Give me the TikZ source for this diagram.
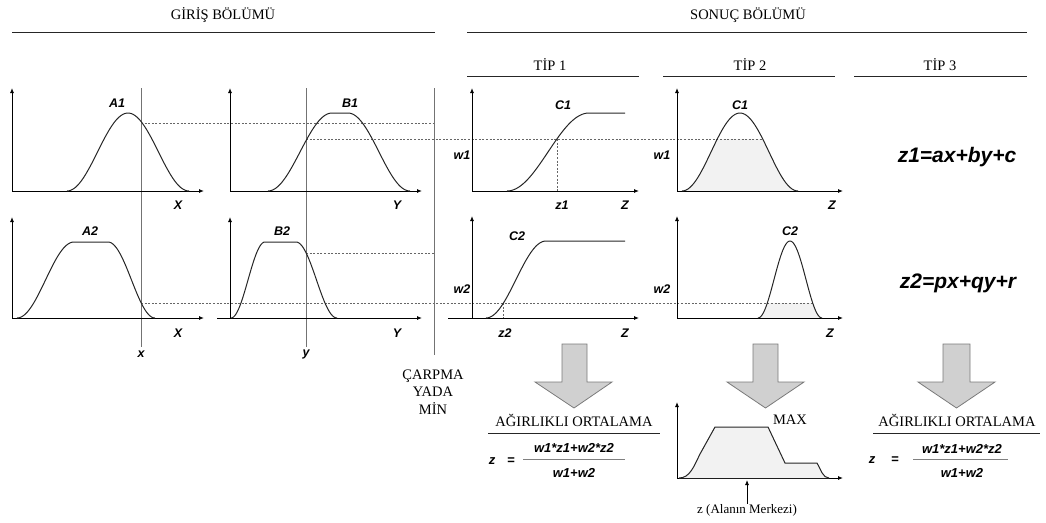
\documentclass[tikz,border=0pt]{standalone}
\usepackage{fontspec}
\setmainfont{Liberation Serif}
\newfontfamily\lsans{Liberation Sans}
\usetikzlibrary{arrows.meta}
\definecolor{arrowfill}{HTML}{D0D0D0}
\definecolor{arrowline}{HTML}{7A7A7A}
\definecolor{shadefill}{HTML}{F2F2F2}
\begin{document}
\begin{tikzpicture}[x=1pt,y=-1pt,
  ser/.style={font=\fontsize{14.5}{17}\selectfont, inner sep=0pt},
  sersm/.style={font=\fontsize{13}{15}\selectfont, inner sep=0pt},
  lab/.style={font=\lsans\fontsize{12.5}{14}\selectfont\bfseries\itshape, inner sep=0pt},
  frac/.style={font=\lsans\fontsize{13}{15}\selectfont\bfseries\itshape, inner sep=0pt},
  big/.style={font=\lsans\fontsize{21}{24}\selectfont\bfseries\itshape, inner sep=0pt},
  axis/.style={line width=0.9pt, -{Latex[length=5pt,width=4pt]}},
  curve/.style={line width=1pt, black!85},
  guide/.style={line width=1pt, black!55},
  dline/.style={line width=1pt, black!60, dash pattern=on 2pt off 1.6pt},
  rule/.style={line width=1pt, black!85},
  block/.style={fill=arrowfill, draw=arrowline, line width=0.8pt}]
\useasboundingbox (0,0) rectangle (1046,522);

% ---------- headings ----------
\node[ser] (giris) at (223,15) {GİRİŞ BÖLÜMÜ};
\draw[rule] (12,32) -- (435,32);
\node[ser] (sonuc) at (748,15) {SONUÇ BÖLÜMÜ};
\draw[rule] (467,32) -- (1027,32);
\node[ser] (tip1) at (550,65) {TİP 1};
\draw[rule] (467,76) -- (639,76);
\node[ser] (tip2) at (750,65) {TİP 2};
\draw[rule] (663,76) -- (835,76);
\node[ser] (tip3) at (940,65) {TİP 3};
\draw[rule] (854,76) -- (1027,76);

% ---------- shading (TİP 2) ----------
\begin{scope}
  \clip (670,139) rectangle (810,191);
  \fill[shadefill] plot[domain=682:798,samples=60] (\x,{191-78*(1+cos(180*(\x-740)/58))/2}) -- cycle;
\end{scope}
\begin{scope}
  \clip (740,303) rectangle (830,318);
  \fill[shadefill] plot[domain=758:822,samples=60] (\x,{318-77*(1+cos(180*(\x-790)/32))/2}) -- cycle;
\end{scope}

% ---------- dashed guides ----------
\draw[dline] (141,123) -- (434,123);
\draw[dline] (306,139) -- (763,139);
\draw[dline] (306,253) -- (434,253);
\draw[dline] (141,303) -- (813,303);
\draw[dline] (557,139) -- (557,191);
\draw[dline] (503,303) -- (503,318);

% ---------- vertical guides ----------
\draw[guide] (141,88) -- (141,347);
\draw[guide] (306,88) -- (306,347);
\draw[guide] (434,88) -- (434,355);

% ---------- axes ----------
\draw[axis] (12,191) -- (12,88);   \draw[axis] (12,191) -- (204,191);
\draw[axis] (230,191) -- (230,88); \draw[axis] (230,191) -- (422,191);
\draw[axis] (12,318) -- (12,217);  \draw[axis] (12,318) -- (204,318);
\draw[axis] (230,318) -- (230,217); \draw[axis] (217,318) -- (422,318);
\draw[axis] (472,191) -- (472,88); \draw[axis] (472,191) -- (639,191);
\draw[axis] (472,318) -- (472,216); \draw[axis] (448,318) -- (639,318);
\draw[axis] (677,191) -- (677,88); \draw[axis] (677,191) -- (843,191);
\draw[axis] (677,318) -- (677,216); \draw[axis] (677,318) -- (843,318);

% ---------- curves ----------
% A1
\draw[curve] plot[domain=67:189,samples=60] (\x,{191-78*(1+cos(180*(\x-128)/61))/2});
% B1
\draw[curve] plot[domain=268:332,samples=40] (\x,{191-78*(1-cos(180*(\x-268)/64))/2})
  -- (348,113) -- plot[domain=348:410,samples=40] (\x,{191-78*(1+cos(180*(\x-348)/62))/2});
% A2
\draw[curve] plot[domain=17:74,samples=40] (\x,{318-76*(1-cos(180*(\x-17)/57))/2})
  -- (108,242) -- plot[domain=108:155,samples=40] (\x,{318-76*(1+cos(180*(\x-108)/47))/2});
% B2
\draw[curve] plot[domain=231:265,samples=30] (\x,{318-76*(1-cos(180*(\x-231)/34))/2})
  -- (296,242) -- plot[domain=296:337,samples=30] (\x,{318-76*(1+cos(180*(\x-296)/41))/2});
% C1 type 1
\draw[curve] plot[domain=507:589,samples=50] (\x,{191-78*(1-cos(180*(\x-507)/82))/2}) -- (625,113);
% C2 type 1
\draw[curve] plot[domain=486:546,samples=40] (\x,{318-77*(1-cos(180*(\x-486)/60))/2}) -- (625,241);
% C1 type 2
\draw[curve] plot[domain=682:798,samples=60] (\x,{191-78*(1+cos(180*(\x-740)/58))/2});
% C2 type 2
\draw[curve] plot[domain=758:822,samples=50] (\x,{318-77*(1+cos(180*(\x-790)/32))/2});

% ---------- curve and axis labels ----------
\node[lab] (lA1) at (117,103) {A1};
\node[lab] (lB1) at (350,103) {B1};
\node[lab] (lA2) at (90,231) {A2};
\node[lab] (lB2) at (282,231) {B2};
\node[lab] (lX1) at (178,205) {X};
\node[lab] (lY1) at (397,205) {Y};
\node[lab] (lX2) at (178,333) {X};
\node[lab] (lY2) at (397,333) {Y};
\node[lab] (lx) at (141,354) {x};
\node[lab] (ly) at (306,354) {y};
\node[lab] (lC1a) at (563,105) {C1};
\node[lab] (lw1a) at (462,155) {w1};
\node[lab] (lz1) at (562,205) {z1};
\node[lab] (lZ1a) at (625,205) {Z};
\node[lab] (lC2a) at (517,236) {C2};
\node[lab] (lw2a) at (462,289) {w2};
\node[lab] (lz2) at (505,333) {z2};
\node[lab] (lZ2a) at (625,333) {Z};
\node[lab] (lC1b) at (740,105) {C1};
\node[lab] (lw1b) at (662,155) {w1};
\node[lab] (lZ1b) at (832,205) {Z};
\node[lab] (lC2b) at (790,231) {C2};
\node[lab] (lw2b) at (662,289) {w2};
\node[lab] (lZ2b) at (830,333) {Z};

\node[big] (eq1) at (957,157) {z1=ax+by+c};
\node[big] (eq2) at (958,283) {z2=px+qy+r};

% ---------- ÇARPMA ----------
\node[ser, align=center, font=\fontsize{14.5}{17.5}\selectfont] (carpma) at (433,392) {ÇARPMA\\YADA\\MİN};

% ---------- block arrows ----------
\draw[block] (562,344) -- (587,344) -- (587,382) -- (612,382) -- (574,408) -- (535,382) -- (562,382) -- cycle;
\draw[block] (753,344) -- (778,344) -- (778,382) -- (804,382) -- (765.5,408) -- (727,382) -- (753,382) -- cycle;
\draw[block] (943,344) -- (970,344) -- (970,382) -- (995,382) -- (956.5,408) -- (918,382) -- (943,382) -- cycle;

% ---------- TİP 1 result ----------
\node[ser] (ort1) at (574,420) {AĞIRLIKLI ORTALAMA};
\draw[rule] (488,433) -- (660,433);
\node[frac] (z1eq) at (492,461) {z};
\node[frac] (eqs1) at (511,461) {=};
\node[frac] (num1) at (574,448) {w1*z1+w2*z2};
\draw[line width=0.7pt, gray] (523,459) -- (625,459);
\node[frac] (den1) at (574,473) {w1+w2};

% ---------- TİP 2 result ----------
\draw[axis] (677,478) -- (677,402); \draw[axis] (677,478) -- (843,478);
\fill[shadefill] (679,478) .. controls (690,478) and (694,466) .. (700,454) -- (715,427) -- (768,427) -- (785,463) -- (817,463) .. controls (821,470) and (823,478) .. (829,478) -- cycle;
\draw[curve] (679,478) .. controls (690,478) and (694,466) .. (700,454) -- (715,427) -- (768,427) -- (785,463) -- (817,463) .. controls (821,470) and (823,478) .. (829,478);
\node[ser] (max) at (790,420) {MAX};
\node[sersm] (merkez) at (747,510) {z (Alanın Merkezi)};
\coordinate (cog) at (747,480);
\draw[line width=0.8pt, -{Latex[length=5pt,width=4pt]}] (merkez.north) -- (cog);

% ---------- TİP 3 result ----------
\node[ser] (ort3) at (957,420) {AĞIRLIKLI ORTALAMA};
\draw[rule] (873,433) -- (1040,433);
\node[frac] (z3eq) at (872,460) {z};
\node[frac] (eqs3) at (895,460) {=};
\node[frac] (num3) at (962,449) {w1*z1+w2*z2};
\draw[line width=0.7pt, gray] (913,459) -- (1008,459);
\node[frac] (den3) at (962,473) {w1+w2};
\end{tikzpicture}
\end{document}
